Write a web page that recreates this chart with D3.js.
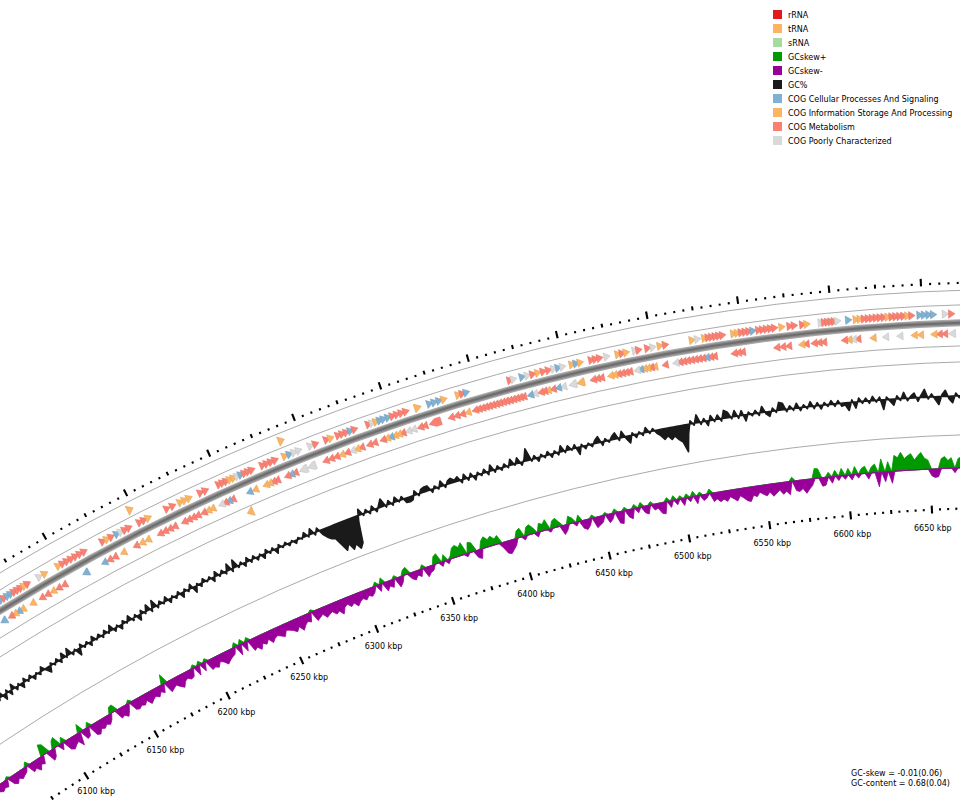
<!DOCTYPE html>
<html>
<head>
<meta charset="utf-8">
<script src="https://cdn.jsdelivr.net/npm/d3@7"></script>
<style>
  html, body { margin: 0; padding: 0; background: #fff; }
  svg { display: block; font-family: "DejaVu Sans", sans-serif; }
</style>
</head>
<body>
<div id="map"></div>
<script>
// ---- data (positions in kbp) ----
const tickPositions = [6100, 6150, 6200, 6250, 6300, 6350, 6400, 6450, 6500, 6550, 6600, 6650];
const tickLabels = ["6100 kbp", "6150 kbp", "6200 kbp", "6250 kbp", "6300 kbp", "6350 kbp",
                    "6400 kbp", "6450 kbp", "6500 kbp", "6550 kbp", "6600 kbp", "6650 kbp"];

const legendLabels = ["rRNA", "tRNA", "sRNA", "GCskew+", "GCskew-", "GC%",
  "COG Cellular Processes And Signaling", "COG Information Storage And Processing",
  "COG Metabolism", "COG Poorly Characterized"];
const legendColors = ["#e31a1c", "#fdb462", "#a6dba0", "#009900", "#990099", "#1a1a1a",
  "#80b1d3", "#fdb462", "#fb8072", "#d9d9d9"];

const statLines = ["GC-skew = -0.01(0.06)", "GC-content = 0.68(0.04)"];

// COG codes: C cellular, I information, M metabolism, P poorly characterized
const cogColors = { C: "#80b1d3", I: "#fdb462", M: "#fb8072", P: "#d9d9d9" };

// gene clusters [start, end, categories in order]
const fwdGeneRuns = [
  [6112, 6116, "CM"], [6116, 6131, "CCMMMIM"], [6135, 6142, "PI"], [6148, 6167, "IMMMMMM"],
  [6176, 6184, "MIM"], [6185, 6195, "CPMM"], [6199, 6207, "MMI"], [6215, 6222, "MM"],
  [6224, 6232, "III"], [6236, 6242, "MM"], [6248, 6270, "MMMIIPCMMM"], [6274, 6284, "MMMM"],
  [6287, 6298, "ICPP"], [6302, 6308, "PM"], [6312, 6317, "MI"], [6319, 6331, "MMMCM"],
  [6337, 6348, "MPICC"], [6348, 6361, "CMMMM"], [6364, 6368, "I"], [6372, 6383, "CCCI"],
  [6389, 6396, "IMC"], [6419, 6423, "MP"], [6425, 6446, "CPMIMMP"], [6446, 6451, "CP"],
  [6454, 6461, "ICI"], [6465, 6472, "MMM"], [6473, 6476, "P"], [6480, 6487, "IMI"],
  [6490, 6494, "PM"], [6496, 6502, "MP"], [6503, 6509, "IM"], [6521, 6527, "IP"],
  [6529, 6541, "IMMMMM"], [6545, 6558, "IIMMMC"], [6559, 6570, "MMMMM"], [6571, 6574, "I"],
  [6576, 6581, "MM"], [6583, 6588, "MI"], [6594, 6605, "PMMMMP"], [6608, 6611, "C"],
  [6613, 6622, "IIMM"], [6622, 6646, "MMMMIMMMMIM"], [6648, 6658, "CCCC"], [6661, 6668, "PM"]
];
const revGeneRuns = [
  [6105, 6109, "C"], [6110, 6120, "MICI"], [6124, 6127, "I"], [6130, 6148, "MMIMM"],
  [6158, 6162, "C"], [6170, 6180, "CMM"], [6182, 6184, "I"], [6190, 6201, "MII"],
  [6205, 6217, "MMMM"], [6220, 6231, "MMMM"], [6232, 6240, "MII"], [6243, 6252, "PMCM"],
  [6260, 6267, "CI"], [6270, 6279, "IIMM"], [6283, 6290, "MCM"], [6292, 6302, "PP"],
  [6306, 6322, "MMMIM"], [6322, 6330, "PIM"], [6332, 6338, "MM"], [6340, 6354, "MICIIM"],
  [6355, 6361, "PP"], [6362, 6367, "MM"], [6369, 6376, "M"], [6380, 6393, "MMMI"],
  [6394, 6424, "MMMMMMMMMMMMMMM"], [6426, 6431, "CP"], [6432, 6438, "MMI"], [6439, 6448, "MCP"],
  [6450, 6459, "PI"], [6462, 6469, "MMM"], [6472, 6485, "IIMMMM"], [6487, 6499, "PCIIMI"],
  [6503, 6506, "M"], [6509, 6533, "PMMMMMMMCMM"], [6542, 6549, "MMM"], [6566, 6576, "MMM"],
  [6580, 6585, "IM"], [6587, 6595, "MMM"], [6604, 6614, "MIPM"], [6620, 6623, "I"],
  [6627, 6630, "P"], [6635, 6637, "P"], [6643, 6650, "II"], [6654, 6663, "IMM"], [6664, 6668, "P"]
];
// tRNA genes [start, end, strand]
const tRNAs = [[6198, 6200, 1], [6289, 6291, 1], [6256, 6258, -1]];

// sliding windows of 2 kbp starting at 6050 kbp
const windowStart = 6050, windowSize = 2;
// GC content, deviation from mean in tenths of a percent
const gcDeviation = [
  5, -8, 10, -5, 6, -10, 8, -4, 12, -6, 4, -12, 7, -5, 10, -8, 15, -18, 10, -14, 18, -10, 6, -16, 12,
  -6, 10, -12, 5, -8, 14, -4, -20, 8, -6, 10, -10, 18, -5, 22, -8, 6, -22, 12, -6, 8, -12, 15, -4, 10,
  -8, 12, -5, 18, -10, 6, -14, 10, -4, 16, -8, 8, -18, 12, -6, 20, -10, 24, -8, 10, -5, 14, -12, 6, -8,
  10, -16, 8, -6, 14, -20, 6, -10, 12, -4, 8, -14, 16, -6, 10, -8, 22, -10, 26, -6, 8, -12, 14, -8, 10,
  -10, 6, -14, 12, -6, 8, -16, 10, -5, 8, -8, 5, -10, 6, -4, 14, -6, 18, -8, 12, -15, -30, -40, -45, -70,
  -95, -75, -100, -85, -105, -90, -20, 20, -6, 10, -8, 14, -10, 8, 26, -6, 12, -8, 16, -4, 10, -14, -16, -12, 14,
  -6, 12, 16, 16, -10, 8, -6, 18, -8, 10, 16, 6, 14, -10, 16, -8, 12, -14, 8, -6, 12, -10, 20, -8, 10,
  -8, 10, -6, 20, -4, 18, -10, 8, 40, -6, 10, -12, 8, -6, 12, -10, 8, -8, 20, -6, 14, -4, 12, -24, 8,
  -10, 6, -8, 10, 20, -12, 8, -6, 10, 20, -8, 20, -6, -24, 8, -10, 6, -8, 16, -6, 8, -10, -20, -35, -25,
  -40, -30, -45, -55, -90, -30, 10, -6, 26, -8, 10, -16, 16, -6, 14, -8, 26, 18, -6, 20, -8, 16, -20, 8, -6,
  10, -8, 20, -6, -16, 10, -6, 26, 22, -8, 10, -6, 16, -10, 8, -6, 16, -8, 10, -12, 8, -6, 12, -8, 10,
  -10, -6, -26, 8, -20, 12, -6, 10, -8, 14, -6, 10, -32, 8, -6, -20, 10, -6, 20, -8, 6, 16, -12, 8, 26,
  -6, 10, -8, -26, 6, 20, -8, -22, 10, -6, 12, -8, 10, -6, 8, -10, 12, -6, 8, -8, 10, -6, 8, -10, 6
];
// GC skew in thousandths
const gcSkew = [
  -20, -25, -18, -22, 8, -24, -30, -18, -26, -20, -15, 14, -28, -22, -35, -20, -25, 36, 30, -32, -24, 22, 30, -20, 18,
  -30, -36, -28, -22, -40, 26, -30, -26, 15, -34, -38, -25, -30, -22, -28, -18, 20, 22, -30, -26, -35, -20, 10, -28, -32,
  -25, -30, -20, -36, -28, -22, -30, -18, -26, 30, -34, -28, -22, -32, -40, -25, -20, -28, -24, 10, -30, 12, -26, 10, -32,
  -28, -34, -20, -26, -38, -30, -24, -20, 14, -32, 15, -28, 12, -36, -30, -42, -26, -34, -22, -38, -28, -24, -30, -36, -20,
  -24, -30, -38, -26, -42, -30, -22, -28, 8, -32, -26, -20, -34, -28, -24, -36, -30, -44, -26, -20, -32, -24, -38, -28, -22,
  -30, -20, -26, -18, 12, -22, 18, -28, -16, -24, 10, -30, -20, 16, 22, -18, -26, -14, -22, 12, -30, -20, -16, 24, 30,
  -14, 20, -12, 10, 30, 36, 26, 38, -10, 32, 28, -22, -28, 24, 34, 22, 30, 18, 26, -16, -36, -40, -30, -20, 22,
  28, -12, 24, 30, 18, -14, 26, 20, 32, -10, 22, 28, 14, -28, -18, 24, 16, -12, 20, -24, -30, -20, 10, -32, -26,
  -20, 8, -26, -18, 12, -34, -38, 10, -22, -30, 12, -16, 14, -20, -26, 10, -18, -14, -32, -36, 12, -20, 14, -16, 10,
  -22, 12, -14, 16, -24, 10, -18, -12, 14, -26, -20, -30, -24, -32, -20, -28, -36, -22, -30, -40, -44, -26, -32, -20, -28,
  -34, -24, -38, -30, -22, -36, -28, -40, 12, -30, -34, -26, -42, -30, -20, 30, 28, -26, -24, 14, -20, 18, -14, 22, -12,
  20, -16, 24, -12, 16, 22, -18, 18, 26, -44, 40, -30, 30, -36, 48, 40, 56, 36, 44, 50, 30, 42, 52, 34, 28,
  -20, -26, -24, 30, 36, 24, 32, -14, 28, 34, 20, -18, 22, 30, -16, 24, 18, -20, 26, 20, -14, 22, 16, -18, 24
];

// ---- layout ----
const width = 960, height = 800;
const cx = 1017, cy = 2256;            // centre of the circular map, far below the view
const R = {
  outerTick: 1972, ring1: 1966.5, fwdRna: [1954, 1964], ring2: 1952,
  fwd: [1939, 1947.5], backbone: 1934, rev: [1919.5, 1927.5],
  ring3: 1911, revRna: [1900, 1910], ring4: 1895,
  gcBase: 1861, ring5: 1822, skewBase: 1789, innerTick: 1748, label: 1730
};

// kbp -> degrees clockwise from 12 o'clock
const angleDeg = d3.scaleLinear().domain([6100, 6650]).range([-32.16, -2.79]);
const rad = p => angleDeg(p) * Math.PI / 180;
const polar = (r, p) => [r * Math.sin(rad(p)), -r * Math.cos(rad(p))];
const pxPerKbp = r => r * (angleDeg(6101) - angleDeg(6100)) * Math.PI / 180;

const gcScale = d3.scaleLinear().domain([-120, 120]).range([-36, 36]);
const skewScale = d3.scaleLinear().domain([-50, 50]).range([-16.5, 16.5]);

const svg = d3.select("#map").append("svg")
  .attr("width", width).attr("height", height)
  .attr("viewBox", [0, 0, width, height]);
svg.append("rect").attr("width", width).attr("height", height).attr("fill", "#fff");

const g = svg.append("g").attr("transform", `translate(${cx}, ${cy})`);

/* rings */
g.selectAll(".ring")
  .data([R.ring1, R.ring2, R.ring3, R.ring4, R.ring5])
  .join("circle")
    .attr("class", "ring")
    .attr("r", d => d)
    .attr("fill", "none")
    .attr("stroke", "#a0a0a0")
    .attr("stroke-width", 0.9);

/* backbone */
[["#a9a9a9", 7], ["#8a8a8a", 4.5], ["#6e6e6e", 2]].forEach(([c, w]) => {
  g.append("circle").attr("r", R.backbone).attr("fill", "none")
    .attr("stroke", c).attr("stroke-width", w);
});

/* genes */
const expandRuns = (runs, strand) => runs.flatMap(([s, e, cats]) => {
  const len = (e - s) / cats.length;
  return cats.split("").map((c, i) => ({ start: s + i * len, end: s + (i + 1) * len, strand, color: cogColors[c] }));
});

const headPx = 6.5;
const arrow = (f, r0, r1) => {
  const rm = (r0 + r1) / 2;
  const head = headPx / pxPerKbp(rm);
  let pts;
  if (f.strand > 0) {
    const hb = f.end - head;
    pts = hb > f.start
      ? [polar(r1, f.start), polar(r1, hb), polar(rm, f.end), polar(r0, hb), polar(r0, f.start)]
      : [polar(r1, hb), polar(rm, f.end), polar(r0, hb)];
  } else {
    const hb = f.start + head;
    pts = hb < f.end
      ? [polar(r1, f.end), polar(r1, hb), polar(rm, f.start), polar(r0, hb), polar(r0, f.end)]
      : [polar(r1, hb), polar(rm, f.start), polar(r0, hb)];
  }
  return d3.line().curve(d3.curveLinearClosed)(pts);
};

const drawFeatures = (data, radii, cls) => {
  g.selectAll(`.${cls}`)
    .data(data)
    .join("path")
      .attr("class", cls)
      .attr("d", d => arrow(d, radii[0], radii[1]))
      .attr("fill", d => d.color)
      .attr("stroke", d => d3.color(d.color).darker(0.4))
      .attr("stroke-width", 0.5);
};

drawFeatures(expandRuns(fwdGeneRuns, 1), R.fwd, "gene-fwd");
drawFeatures(expandRuns(revGeneRuns, -1).reverse(), R.rev, "gene-rev");

const rnaData = tRNAs.map(([s, e, strand]) => ({ start: s, end: e, strand, color: legendColors[1] }));
drawFeatures(rnaData.filter(d => d.strand > 0), R.fwdRna, "trna-fwd");
drawFeatures(rnaData.filter(d => d.strand < 0), R.revRna, "trna-rev");

/* GC content */
const winAngle = (d, i) => rad(windowStart + i * windowSize + windowSize / 2);

g.append("path")
  .datum(gcDeviation)
  .attr("d", d3.areaRadial()
    .angle(winAngle)
    .innerRadius(R.gcBase)
    .outerRadius(d => R.gcBase + gcScale(d)))
  .attr("fill", legendColors[5])
  .attr("stroke", legendColors[5])
  .attr("stroke-width", 1.7)
  .attr("stroke-linejoin", "round");

/* GC skew */
const skewArea = clamp => d3.areaRadial()
  .angle(winAngle)
  .innerRadius(R.skewBase)
  .outerRadius(d => R.skewBase + skewScale(clamp(d)));

g.append("path").datum(gcSkew)
  .attr("d", skewArea(d => Math.max(d, 0)))
  .attr("fill", legendColors[3]).attr("stroke", legendColors[3]).attr("stroke-width", 0.8);
g.append("path").datum(gcSkew)
  .attr("d", skewArea(d => Math.min(d, 0)))
  .attr("fill", legendColors[4]).attr("stroke", legendColors[4]).attr("stroke-width", 0.8);

/* tick rings */
const tickKbp = d3.range(6000, 6701, 5);
const tickLen = p => p % 50 === 0 ? "major" : p % 25 === 0 ? "mid" : "minor";
const outerSpan = { major: [1972, 1979.5], mid: [1972.5, 1976.5], minor: [1972.8, 1975] };
const innerSpan = { major: [1744.5, 1752.5], mid: [1746.5, 1750.5], minor: [1747.2, 1749.4] };

[["outer", outerSpan], ["inner", innerSpan]].forEach(([name, span]) => {
  g.selectAll(`.tick-${name}`)
    .data(tickKbp)
    .join("line")
      .attr("class", `tick-${name}`)
      .attr("x1", p => polar(span[tickLen(p)][0], p)[0])
      .attr("y1", p => polar(span[tickLen(p)][0], p)[1])
      .attr("x2", p => polar(span[tickLen(p)][1], p)[0])
      .attr("y2", p => polar(span[tickLen(p)][1], p)[1])
      .attr("stroke", "#000")
      .attr("stroke-width", p => tickLen(p) === "major" ? 2.1 : 2);
});

g.selectAll(".tick-label")
  .data(tickPositions)
  .join("text")
    .attr("class", "tick-label")
    .attr("x", p => polar(R.label, p)[0])
    .attr("y", p => polar(R.label, p)[1])
    .attr("dy", "0.35em")
    .attr("text-anchor", "middle")
    .attr("font-size", 8)
    .attr("fill", "#000")
    .text((p, i) => tickLabels[i]);

/* legend */
const legend = svg.append("g").attr("transform", "translate(773, 10)");
legend.selectAll("rect")
  .data(legendColors)
  .join("rect")
    .attr("x", 0)
    .attr("y", (d, i) => i * 14)
    .attr("width", 9)
    .attr("height", 9)
    .attr("fill", d => d);
legend.selectAll("text")
  .data(legendLabels)
  .join("text")
    .attr("x", 15)
    .attr("y", (d, i) => i * 14 + 7.5)
    .attr("font-size", 8)
    .attr("fill", "#000")
    .text(d => d);

/* summary */
svg.selectAll(".stat")
  .data(statLines)
  .join("text")
    .attr("class", "stat")
    .attr("x", 851)
    .attr("y", (d, i) => 776 + i * 9.8)
    .attr("font-size", 8)
    .attr("fill", "#000")
    .text(d => d);
</script>
</body>
</html>
